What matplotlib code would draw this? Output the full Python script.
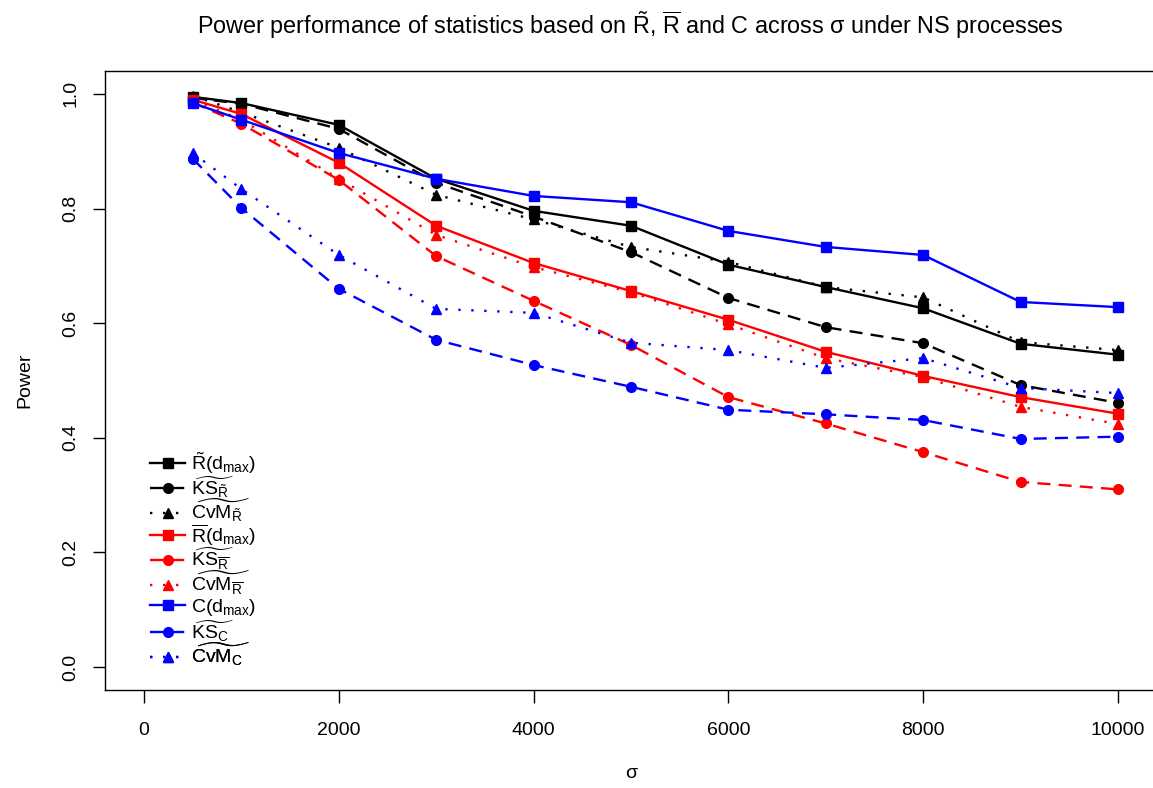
import numpy as np
import matplotlib
matplotlib.use('Agg')
import matplotlib.pyplot as plt

# ---------------------------------------
# Datos
# ---------------------------------------
sigma = [500, 1000, 2000, 3000, 4000, 5000, 6000, 7000, 8000, 9000, 10000]

rt_dmax = [0.995, 0.984, 0.946, 0.852, 0.796, 0.770, 0.702, 0.663, 0.626, 0.564, 0.545]
rt_ks = [0.993, 0.983, 0.939, 0.845, 0.786, 0.724, 0.644, 0.593, 0.565, 0.492, 0.461]
rt_cvm = [0.997, 0.968, 0.906, 0.824, 0.781, 0.733, 0.707, 0.663, 0.645, 0.567, 0.553]

rb_dmax = [0.990, 0.965, 0.880, 0.770, 0.705, 0.656, 0.606, 0.550, 0.508, 0.471, 0.442]
rb_ks = [0.985, 0.948, 0.850, 0.717, 0.639, 0.562, 0.471, 0.425, 0.375, 0.323, 0.310]
rb_cvm = [0.990, 0.955, 0.852, 0.754, 0.698, 0.654, 0.598, 0.539, 0.506, 0.454, 0.424]

c_dmax = [0.984, 0.955, 0.897, 0.852, 0.822, 0.811, 0.761, 0.733, 0.719, 0.637, 0.628]
c_ks = [0.887, 0.801, 0.660, 0.571, 0.527, 0.489, 0.449, 0.441, 0.431, 0.398, 0.402]
c_cvm = [0.897, 0.834, 0.719, 0.625, 0.618, 0.566, 0.553, 0.522, 0.539, 0.487, 0.478]

labels = [
    r'$\tilde{\mathrm{R}}(\mathrm{d}_{\mathrm{max}})$',
    r'$\widetilde{\mathrm{KS}_{\tilde{\mathrm{R}}}}$',
    r'$\widetilde{\mathrm{CvM}_{\tilde{\mathrm{R}}}}$',
    r'$\overline{\mathrm{R}}(\mathrm{d}_{\mathrm{max}})$',
    r'$\widetilde{\mathrm{KS}_{\overline{\mathrm{R}}}}$',
    r'$\widetilde{\mathrm{CvM}_{\overline{\mathrm{R}}}}$',
    r'$\mathrm{C}(\mathrm{d}_{\mathrm{max}})$',
    r'$\widetilde{\mathrm{KS}_{\mathrm{C}}}$',
    r'$\widetilde{\mathrm{CvM}_{\mathrm{C}}}$',
]

# ---------------------------------------
# Estilo
# ---------------------------------------
plt.rcParams['font.family'] = ['Liberation Sans', 'DejaVu Sans']
plt.rcParams['mathtext.fontset'] = 'custom'
plt.rcParams['mathtext.rm'] = 'Liberation Sans'
plt.rcParams['mathtext.it'] = 'Liberation Sans:italic'
plt.rcParams['mathtext.bf'] = 'Liberation Sans:bold'

solid = '-'
dashed = (0, (5.5, 3.5))
dotted = (0, (1, 4.5))

series = [
    (rt_dmax, 'black', solid, 's'),
    (rt_ks, 'black', dashed, 'o'),
    (rt_cvm, 'black', dotted, '^'),
    (rb_dmax, 'red', solid, 's'),
    (rb_ks, 'red', dashed, 'o'),
    (rb_cvm, 'red', dotted, '^'),
    (c_dmax, 'blue', solid, 's'),
    (c_ks, 'blue', dashed, 'o'),
    (c_cvm, 'blue', dotted, '^'),
]

W, H = 1153, 788
fig = plt.figure(figsize=(W / 100, H / 100), dpi=100)
ax = fig.add_axes([105 / W, (H - 690) / H, (1157 - 105) / W, (690 - 71) / H])

handles = []
for (vals, col, ls, mk), lab in zip(series, labels):
    h, = ax.plot(sigma, vals, color=col, linestyle=ls, marker=mk, markersize=7,
                 linewidth=1.7, label=lab)
    handles.append(h)

ax.set_xlim(-400, 10400)
ax.set_ylim(-0.04, 1.04)
ax.set_xticks([0, 2000, 4000, 6000, 8000, 10000])
ax.set_yticks([0.0, 0.2, 0.4, 0.6, 0.8, 1.0])
ax.set_yticklabels(['0.0', '0.2', '0.4', '0.6', '0.8', '1.0'], rotation=90, va='center')
ax.tick_params(direction='out', length=9, width=1, labelsize=14)
ax.tick_params(axis='x', pad=14)
ax.tick_params(axis='y', pad=9.5)
for s in ax.spines.values():
    s.set_linewidth(1)

ax.set_xlabel('σ', fontsize=14, labelpad=19)
ax.set_ylabel('Power', fontsize=14, labelpad=21)
fig.text(630 / W, 1 - 25 / H, 'Power performance of statistics based on $\\tilde{\\mathrm{R}}$, '
         '$\\overline{\\mathrm{R}}$ and C across σ under NS processes',
         ha='center', va='center', fontsize=16.8)

# ---------------------------------------
# Leyenda: una fila por serie, espaciado fijo como en R
# ---------------------------------------
for i, (h, lab) in enumerate(zip(handles, labels)):
    py = 463 + 24 * i
    leg = ax.legend([h], [lab], loc='center left',
                    bbox_to_anchor=((150 - 105) / 1052, (690 - py) / 619),
                    frameon=False, fontsize=14, handlelength=1.8,
                    handletextpad=0.3, borderpad=0, borderaxespad=0, numpoints=1)
    ax.add_artist(leg)

plt.savefig('out.png', dpi=100)
